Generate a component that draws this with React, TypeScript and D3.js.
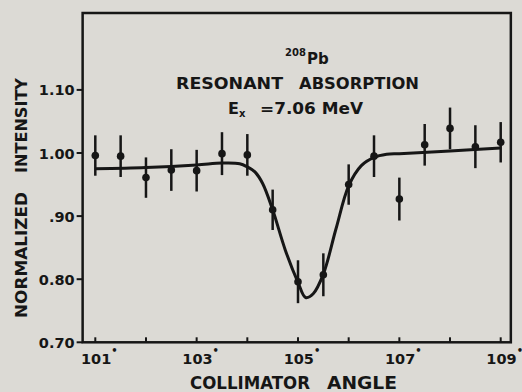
import React from "react";
import * as d3 from "d3";

const angles = [101, 101.5, 102, 102.5, 103, 103.5, 104, 104.5, 105, 105.5, 106, 106.5, 107, 107.5, 108, 108.5, 109];
const intensities = [0.996, 0.995, 0.961, 0.973, 0.972, 0.999, 0.997, 0.910, 0.796, 0.807, 0.950, 0.995, 0.927, 1.013, 1.039, 1.010, 1.017];
const errors = [0.032, 0.033, 0.032, 0.033, 0.033, 0.034, 0.033, 0.032, 0.034, 0.034, 0.032, 0.033, 0.034, 0.033, 0.033, 0.034, 0.032];

const fitAngles = [101.0, 102.0, 103.0, 103.5, 103.85, 104.0, 104.15, 104.3, 104.5, 104.75, 105.0, 105.15, 105.3, 105.5, 105.75, 106.0, 106.25, 106.5, 106.75, 107.0, 108.0, 109.0];
const fitValues = [0.975, 0.977, 0.981, 0.984, 0.983, 0.978, 0.970, 0.952, 0.910, 0.846, 0.795, 0.771, 0.777, 0.808, 0.880, 0.948, 0.980, 0.993, 0.998, 0.999, 1.003, 1.008];

const yTickValues = [0.7, 0.8, 0.9, 1.0, 1.1];
const yTickLabels = ["0.70", "0.80", ".90", "1.00", "1.10"];
const xTickValues = [101, 102, 103, 104, 105, 106, 107, 108, 109];
const xLabelValues = [101, 103, 105, 107, 109];
const xLabels = ["101", "103", "105", "107", "109"];

const W = 522;
const H = 392;
const INK = "#161616";
const BG = "#dcdad5";
const FONT = "'DejaVu Sans', sans-serif";

export default function App() {
  const x = d3.scaleLinear().domain([101, 109]).range([95.3, 500.7]);
  const y = d3.scaleLinear().domain([0.7, 1.1]).range([342.3, 89.9]);

  const left = x(100.75);
  const right = x(109.2);
  const top = 13;
  const bottom = y(0.7);

  const fitLine = d3
    .line<number>()
    .x((_, i) => x(fitAngles[i]))
    .y((v) => y(v))
    .curve(d3.curveCatmullRom.alpha(0.5));

  return (
    <svg
      width={W}
      height={H}
      style={{ position: "absolute", left: 0, top: 0, background: BG }}
      fontFamily={FONT}
    >
      <rect x={0} y={0} width={W} height={H} fill={BG} />
      {/* frame */}
      <rect
        x={left}
        y={top}
        width={right - left}
        height={bottom - top}
        fill="none"
        stroke={INK}
        strokeWidth={2.5}
      />
      {/* y ticks */}
      {yTickValues.map((v, i) => (
        <g key={"yt" + i}>
          <line x1={left - 6} x2={left} y1={y(v)} y2={y(v)} stroke={INK} strokeWidth={2} />
          <text
            x={left - 8}
            y={y(v) + 5.5}
            textAnchor="end"
            fontSize={14.5}
            fontWeight="bold"
            fill={INK}
          >
            {yTickLabels[i]}
          </text>
        </g>
      ))}
      {/* x ticks */}
      {xTickValues.map((v, i) => (
        <line
          key={"xt" + i}
          x1={x(v)}
          x2={x(v)}
          y1={bottom}
          y2={bottom - 5}
          stroke={INK}
          strokeWidth={2}
        />
      ))}
      {xLabelValues.map((v, i) => (
        <text
          key={"xl" + i}
          x={x(v) + 4}
          y={364}
          textAnchor="middle"
          fontSize={14.5}
          fontWeight="bold"
          fill={INK}
        >
          {xLabels[i]}
          <tspan dy={-10} fontSize={10}>
            •
          </tspan>
        </text>
      ))}
      {/* axis titles */}
      <text
        x={190}
        y={389}
        fontSize={17}
        fontWeight="bold"
        fill={INK}
        textLength={120}
        lengthAdjust="spacingAndGlyphs"
      >
        COLLIMATOR
      </text>
      <text
        x={327}
        y={389}
        fontSize={17}
        fontWeight="bold"
        fill={INK}
        textLength={70}
        lengthAdjust="spacingAndGlyphs"
      >
        ANGLE
      </text>
      <g transform="translate(27,0) rotate(-90)">
        <text
          x={-318}
          y={0}
          fontSize={16.5}
          fontWeight="bold"
          fill={INK}
          textLength={126}
          lengthAdjust="spacingAndGlyphs"
        >
          NORMALIZED
        </text>
        <text
          x={-173}
          y={0}
          fontSize={16.5}
          fontWeight="bold"
          fill={INK}
          textLength={95}
          lengthAdjust="spacingAndGlyphs"
        >
          INTENSITY
        </text>
      </g>
      {/* in-plot title */}
      <text x={285} y={56} fontSize={10} fontWeight="bold" fill={INK}>
        208
      </text>
      <text x={307} y={63.5} fontSize={15} fontWeight="bold" fill={INK}>
        Pb
      </text>
      <text
        x={176}
        y={89}
        fontSize={16.5}
        fontWeight="bold"
        fill={INK}
        textLength={107}
        lengthAdjust="spacingAndGlyphs"
      >
        RESONANT
      </text>
      <text
        x={299}
        y={89}
        fontSize={16.5}
        fontWeight="bold"
        fill={INK}
        textLength={120}
        lengthAdjust="spacingAndGlyphs"
      >
        ABSORPTION
      </text>
      <text x={228} y={113.5} fontSize={16} fontWeight="bold" fill={INK}>
        E
        <tspan fontSize={10} dy={3}>
          x
        </tspan>
      </text>
      <text
        x={260}
        y={113.5}
        fontSize={16}
        fontWeight="bold"
        fill={INK}
        textLength={103}
        lengthAdjust="spacingAndGlyphs"
      >
        =7.06 MeV
      </text>
      {/* fit curve */}
      <path d={fitLine(fitValues) || ""} fill="none" stroke={INK} strokeWidth={3} strokeLinejoin="round" />
      {/* data */}
      {angles.map((a, i) => (
        <g key={"p" + i}>
          <line
            x1={x(a)}
            x2={x(a)}
            y1={y(intensities[i] + errors[i])}
            y2={y(intensities[i] - errors[i])}
            stroke={INK}
            strokeWidth={2.5}
          />
          <circle cx={x(a)} cy={y(intensities[i])} r={3.8} fill={INK} />
        </g>
      ))}
    </svg>
  );
}
